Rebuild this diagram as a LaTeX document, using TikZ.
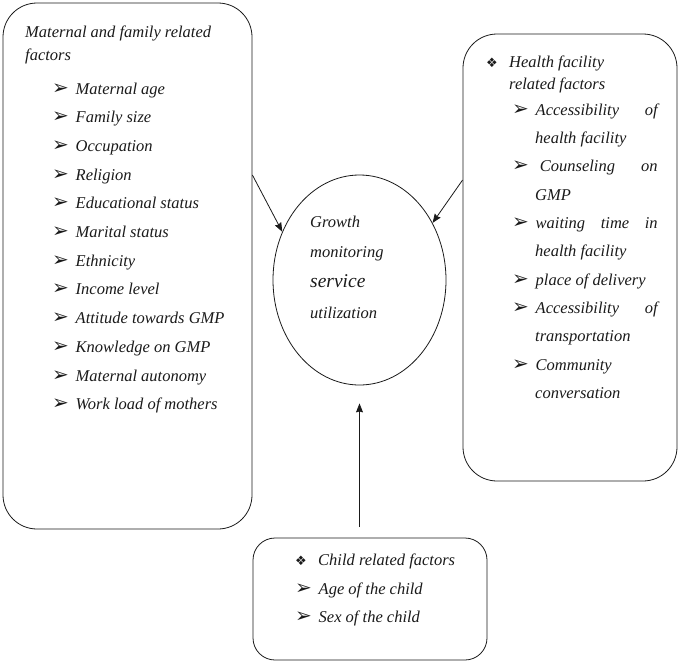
\documentclass[tikz,border=0pt]{standalone}
\usepackage{fontspec}
\setmainfont{Liberation Serif}
\newfontfamily\dingfont{DejaVu Sans}
\usetikzlibrary{shapes.geometric, arrows.meta, positioning, calc}
\usepackage{xcolor}
\definecolor{Ink}{HTML}{1A1A1A}

% bullet marks of the lists
\newcommand{\arw}{\makebox[23.5pt][l]{\dingfont\fontsize{20}{20}\selectfont ➢}}
\newcommand{\dia}{\makebox[23pt][l]{\dingfont\fontsize{13}{13}\selectfont ❖}}

\begin{document}
\begin{tikzpicture}[x=1pt, y=-1pt,
            box/.style={rectangle, draw=Ink, line width=0.8pt, rounded corners=34pt, inner sep=0pt},
            smallbox/.style={rectangle, draw=Ink, line width=0.8pt, rounded corners=22pt, inner sep=0pt},
            goal/.style={ellipse, draw=Ink, line width=0.8pt, inner sep=0pt, minimum width=173pt, minimum height=210pt},
            txt/.style={anchor=base west, inner sep=0pt, text=Ink, font=\itshape\fontsize{16.5}{20}\selectfont},
            arrow/.style={-{Stealth[length=9pt, width=7pt, inset=1pt]}, line width=0.8pt, color=Ink}
        ]
            \useasboundingbox (0,0) rectangle (680,665);

            % Boxes
            \node[box, minimum width=249pt, minimum height=526pt] (mat) at (127.5,266) {};
            \node[box, minimum width=214pt, minimum height=447pt] (hf) at (570,257.5) {};
            \node[smallbox, minimum width=234pt, minimum height=122pt] (ch) at (370,599) {};
            \node[goal] (ell) at (359.5,280) {};

            % Maternal and family related factors
            \node[txt] (mt1) at (25,37) {Maternal and family related};
            \node[txt] (mt2) at (25,60) {factors};
            \foreach \t [count=\i] in {Maternal age, Family size, Occupation, Religion,
                Educational status, Marital status, Ethnicity, Income level,
                Attitude towards GMP, Knowledge on GMP, Maternal autonomy, Work load of mothers}
                \node[txt] (m\i) at (52,{94+28.7*(\i-1)}) {\arw\t};

            % Health facility related factors
            \node[txt] (h1) at (486,67) {\dia Health facility};
            \node[txt] (h2) at (509,89) {related factors};
            \node[txt] (h3) at (512,115) {\arw\hbox to 122pt{Accessibility\hfill of}};
            \node[txt] (h4) at (535,143) {health facility};
            \node[txt] (h5) at (512,171.5) {\arw\hbox to 122pt{\ Counseling\hfill on}};
            \node[txt] (h6) at (535,200) {GMP};
            \node[txt] (h7) at (512,228) {\arw\hbox to 122pt{waiting\hfill time\hfill in}};
            \node[txt] (h8) at (535,256.5) {health facility};
            \node[txt] (h9) at (512,285) {\arw place of delivery};
            \node[txt] (h10) at (512,313) {\arw\hbox to 122pt{Accessibility\hfill of}};
            \node[txt] (h11) at (535,341.5) {transportation};
            \node[txt] (h12) at (512,370) {\arw Community};
            \node[txt] (h13) at (535,398) {conversation};

            % Outcome
            \node[txt] (g1) at (310,227) {Growth};
            \node[txt] (g2) at (310,257) {monitoring};
            \node[txt, font=\itshape\fontsize{19.5}{22}\selectfont] (g3) at (310,287) {service};
            \node[txt] (g4) at (310,318) {utilization};

            % Child related factors
            \node[txt] (c1) at (295,565) {\dia Child related factors};
            \node[txt] (c2) at (295,594) {\arw Age of the child};
            \node[txt] (c3) at (295,622) {\arw Sex of the child};

            % Connections
            \coordinate (lsrc) at ([yshift=91pt]mat.east);
            \coordinate (rsrc) at ([yshift=77.5pt]hf.west);
            \coordinate (csrc) at (ell.south |- 0,527);
            \draw[arrow] (lsrc) -- (ell.148);
            \draw[arrow] (rsrc) -- (ell.38);
            \draw[arrow, shorten >=18pt] (csrc) -- (ell.south);
        \end{tikzpicture}
\end{document}
